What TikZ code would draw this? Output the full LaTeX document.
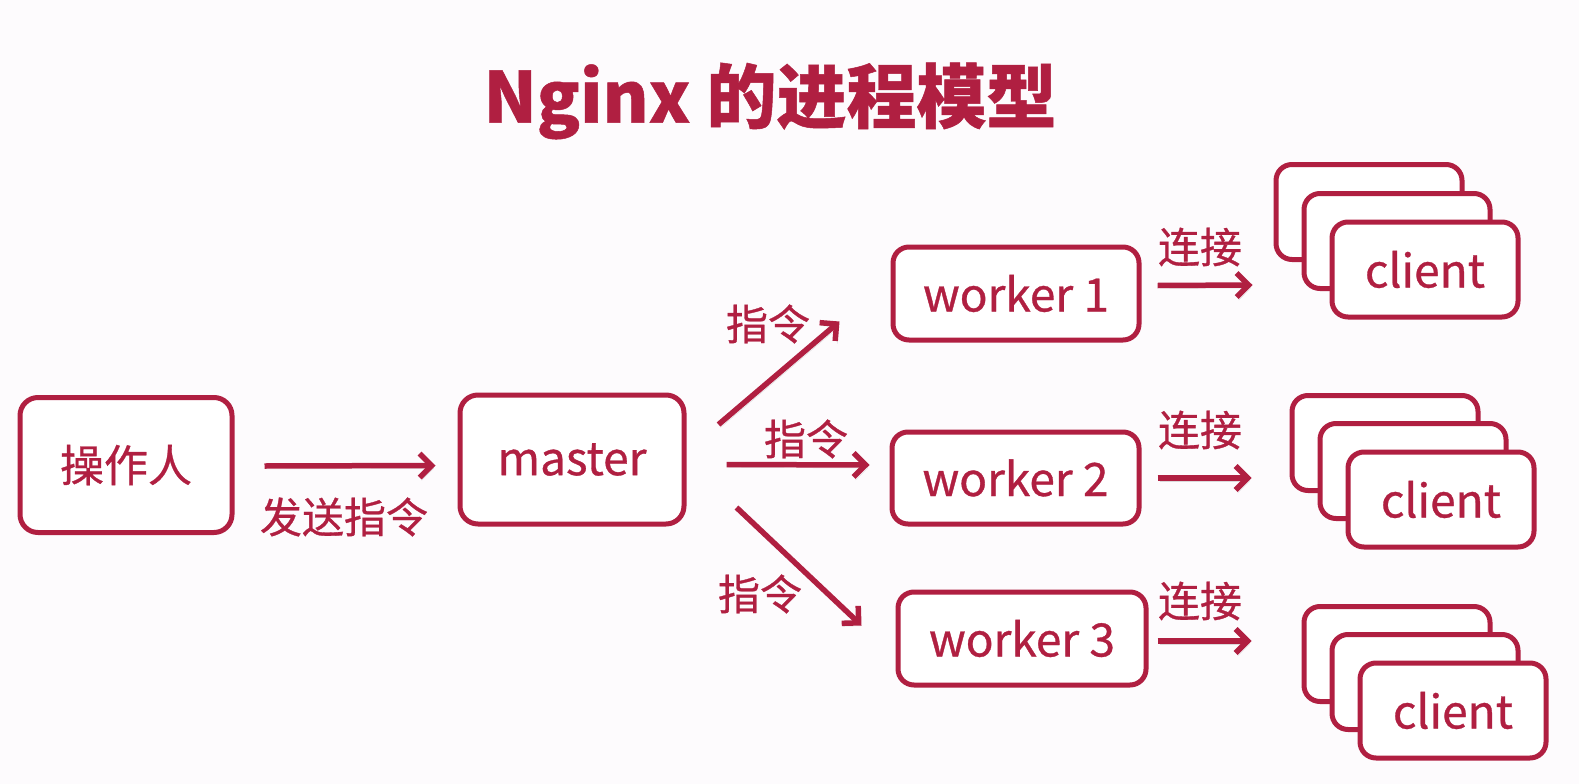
\documentclass[tikz,border=0pt]{standalone}
\usepackage{fontspec}
\setmainfont{Noto Sans CJK SC}[FakeBold=0.7]
\usetikzlibrary{arrows.meta}
\definecolor{crim}{HTML}{B01F41}
\definecolor{bg}{HTML}{FDFBFD}
\begin{document}
\begin{tikzpicture}[x=1pt,y=-1pt,
  box/.style={draw=crim, line width=5pt, rounded corners=18pt, fill=white, text=crim, font=\fontsize{44}{48}\selectfont, inner sep=0pt},
  wbox/.style={box, rounded corners=16pt, font=\fontsize{46}{50}\selectfont},
  cbox/.style={box, rounded corners=16pt, minimum width=186pt, minimum height=95pt, font=\fontsize{46}{50}\selectfont},
  arr/.style={draw=crim, line width=5.5pt, -{Straight Barb[length=12pt,width=24pt]},
    preaction={draw=black!45, opacity=0.3, transform canvas={xshift=2pt,yshift=-3pt}}},
  lbl/.style={text=crim, font=\fontsize{42}{46}\selectfont, inner sep=0pt}]
\fill[bg] (0,0) rectangle (1579,784);
\useasboundingbox (0,0) rectangle (1579,784);
\node[text=crim, font=\fontsize{70}{76}\bfseries\selectfont, inner sep=0pt] (title) at (770,101) {Nginx 的进程模型};
\node[box, minimum width=212pt, minimum height=135pt] (op) at (126,465) {操作人};
\node[box, minimum width=224pt, minimum height=129pt, font=\fontsize{46}{50}\selectfont] (master) at (572,459.5) {master};
\node[wbox, minimum width=246pt, minimum height=93pt] (w1) at (1016,293.5) {worker 1};
\node[wbox, minimum width=247pt, minimum height=92pt] (w2) at (1015.5,478) {worker 2};
\node[wbox, minimum width=248pt, minimum height=93pt] (w3) at (1022,638.5) {worker 3};
% client stacks
\node[cbox] (c1a) at (1369,212) {};
\node[cbox] (c1b) at (1397,241) {};
\node[cbox] (c1c) at (1425,269.5) {client};
\node[cbox] (c2a) at (1385,443) {};
\node[cbox] (c2b) at (1413,471) {};
\node[cbox] (c2c) at (1441,499.5) {client};
\node[cbox] (c3a) at (1397,654) {};
\node[cbox] (c3b) at (1425,682) {};
\node[cbox] (c3c) at (1453,710.5) {client};
% arrows (yshift is in canvas units: positive = up)
\draw[arr] ([xshift=30pt,yshift=-1pt]op.east) -- ([xshift=-22pt,yshift=-6pt]master.west);
\node[lbl] (l0) at (344,517) {发送指令};
\draw[arr] ([xshift=32pt,yshift=35pt]master.east) -- ([xshift=-51pt,yshift=-28pt]w1.west);
\node[lbl] (l1) at (768,324) {指令};
\draw[arr] ([xshift=40pt,yshift=-5pt]master.east) -- ([xshift=-20pt,yshift=13pt]w2.west);
\node[lbl] (l2) at (806,439) {指令};
\draw[arr] ([xshift=50pt,yshift=-48pt]master.east) -- ([xshift=-34pt,yshift=13pt]w3.west);
\node[lbl] (l3) at (760,594) {指令};
\draw[arr] ([xshift=16pt,yshift=8pt]w1.east) -- ([xshift=-21pt,yshift=-73pt]c1a.west);
\node[lbl] (k1) at (1200,247) {连接};
\draw[arr] ([xshift=16pt]w2.east) -- ([xshift=-38pt,yshift=-35pt]c2a.west);
\node[lbl] (k2) at (1200,430) {连接};
\draw[arr] ([xshift=9pt,yshift=-2.5pt]w3.east) -- ([xshift=-50pt,yshift=13pt]c3a.west);
\node[lbl] (k3) at (1200,601) {连接};
\end{tikzpicture}
\end{document}
